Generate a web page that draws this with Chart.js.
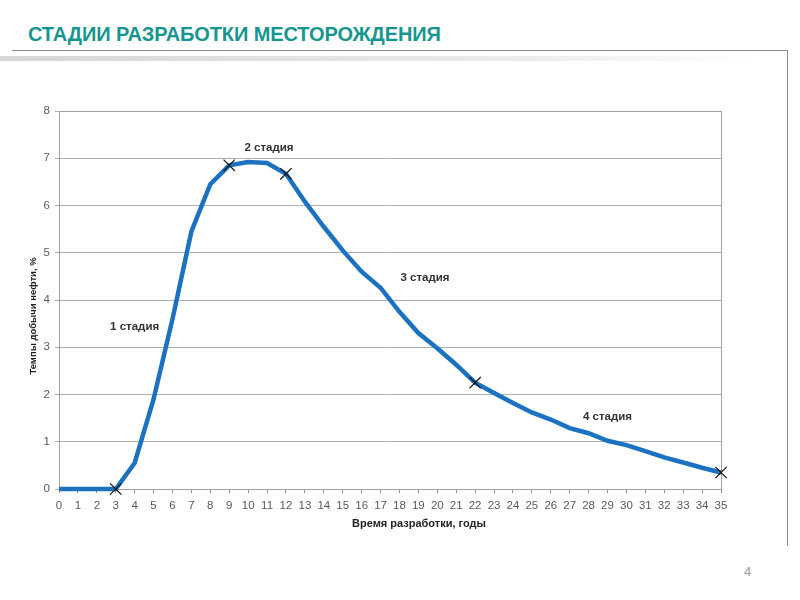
<!DOCTYPE html>
<html>
<head>
<meta charset="utf-8">
<script src="https://cdn.jsdelivr.net/npm/chart.js@4"></script>
<style>
  html, body { margin: 0; padding: 0; background: #fff; }
  body { width: 800px; height: 600px; position: relative; overflow: hidden; font-family: "Liberation Sans", Arial, sans-serif; }
  #title { position: absolute; left: 28px; top: 23px; font-weight: bold; font-size: 20px; letter-spacing: -0.1px; color: #16968f; white-space: nowrap; }
  #rule { position: absolute; left: 12px; top: 50px; width: 776px; border-top: 1px solid #8c8c8c; }
  #side { position: absolute; left: 787px; top: 50px; height: 496px; border-left: 1px solid #8c8c8c; }
  #shade { position: absolute; left: 0; top: 56px; width: 760px; height: 5px; background: linear-gradient(to right, #d6d6d6, #ececec 70%, #fff); }
  #page { position: absolute; left: 744px; top: 564px; font-size: 13px; color: #999; }
  #wrap { position: absolute; left: 0; top: 0; width: 800px; height: 600px; }
  #xt { position: absolute; left: 300px; width: 238px; text-align: center; top: 517px; font-size: 11px; font-weight: bold; color: #222; white-space: nowrap; }
</style>
</head>
<body>
<div id="title">СТАДИИ РАЗРАБОТКИ МЕСТОРОЖДЕНИЯ</div>
<div id="rule"></div>
<div id="shade"></div>
<div id="side"></div>
<div id="page">4</div>
<div id="wrap"><canvas id="chart" width="800" height="600"></canvas></div>
<div id="xt">Время разработки, годы</div>
<script>
// годы разработки и темп добычи нефти, %
const years = [0, 1, 2, 3, 4, 5, 6, 7, 8, 9, 10, 11, 12, 13, 14, 15, 16, 17,
  18, 19, 20, 21, 22, 23, 24, 25, 26, 27, 28, 29, 30, 31, 32, 33, 34, 35];
const rates = [0, 0, 0, 0, 0.55, 1.9, 3.6, 5.45, 6.45, 6.85, 6.92, 6.9, 6.67, 6.08,
  5.55, 5.05, 4.6, 4.26, 3.75, 3.3, 2.98, 2.63, 2.25, 2.03, 1.82, 1.62, 1.47,
  1.29, 1.18, 1.02, 0.93, 0.8, 0.67, 0.56, 0.45, 0.35];

// границы стадий (крестики)
const stageBounds = [3, 9, 12, 22, 35];

// подписи стадий
const stageNames = ["1 стадия", "2 стадия", "3 стадия", "4 стадия"];
const stageX = [4.0, 11.1, 19.35, 29.0];
const stageY = [3.43, 7.22, 4.47, 1.53];

const yTitle = "Темпы добычи нефти, %";

const FONT = "'Liberation Sans', Arial, sans-serif";

const frame = {
  id: "frame",
  beforeDatasetsDraw(chart) {
    const { ctx, chartArea: a } = chart;
    ctx.save();
    ctx.strokeStyle = "#a0a0a0";
    ctx.lineWidth = 1;
    ctx.strokeRect(Math.round(a.left) + 0.5, Math.round(a.top) + 0.5,
      Math.round(a.right - a.left), Math.round(a.bottom - a.top));
    ctx.restore();

    // подпись оси Y (смещена ниже центра, как в оригинале)
    ctx.save();
    ctx.translate(33, 316);
    ctx.rotate(-Math.PI / 2);
    ctx.font = "bold 9.5px " + FONT;
    ctx.fillStyle = "#222";
    ctx.textAlign = "center";
    ctx.textBaseline = "middle";
    ctx.fillText(yTitle, 0, 0);
    ctx.restore();
  },
  afterDatasetsDraw(chart) {
    const { ctx, scales } = chart;
    ctx.save();
    ctx.font = "bold 11.5px " + FONT;
    ctx.fillStyle = "#333";
    ctx.textAlign = "center";
    ctx.textBaseline = "middle";
    stageNames.forEach((t, i) => {
      ctx.fillText(t, scales.x.getPixelForValue(stageX[i]), scales.y.getPixelForValue(stageY[i]));
    });
    ctx.restore();
  }
};

const points = years.map((y, i) => ({ x: y, y: rates[i] }));
const isBound = ctx => stageBounds.includes(years[ctx.dataIndex]);

new Chart(document.getElementById("chart"), {
  type: "line",
  data: {
    datasets: [{
      data: points,
      borderColor: "#1b72c0",
      borderWidth: 4.5,
      tension: 0,
      clip: false,
      pointStyle: "crossRot",
      pointRadius: ctx => isBound(ctx) ? 8 : 0,
      pointHoverRadius: 0,
      pointBorderColor: "#111",
      pointBorderWidth: 1.2
    }]
  },
  options: {
    responsive: false,
    animation: false,
    events: [],
    layout: { padding: { top: 111, right: 79, bottom: 61, left: 0 } },
    plugins: { legend: { display: false }, tooltip: { enabled: false } },
    scales: {
      x: {
        type: "linear",
        min: 0,
        max: 35,
        afterFit: s => { s.height = 50; },
        grid: { drawOnChartArea: false, drawTicks: true, tickLength: 4, color: "#909090" },
        border: { color: "#909090" },
        ticks: { stepSize: 1, autoSkip: false, maxRotation: 0, padding: 6, color: "#595959", font: { family: FONT, size: 11.5 } }
      },
      y: {
        min: 0,
        max: 8,
        afterFit: s => { s.width = 59; },
        grid: { color: "#b0b0b0", tickLength: 4, lineWidth: 1 },
        border: { color: "#909090" },
        ticks: { stepSize: 1, padding: 5, color: "#595959", font: { family: FONT, size: 11.5 } }
      }
    }
  },
  plugins: [frame]
});
</script>
</body>
</html>
